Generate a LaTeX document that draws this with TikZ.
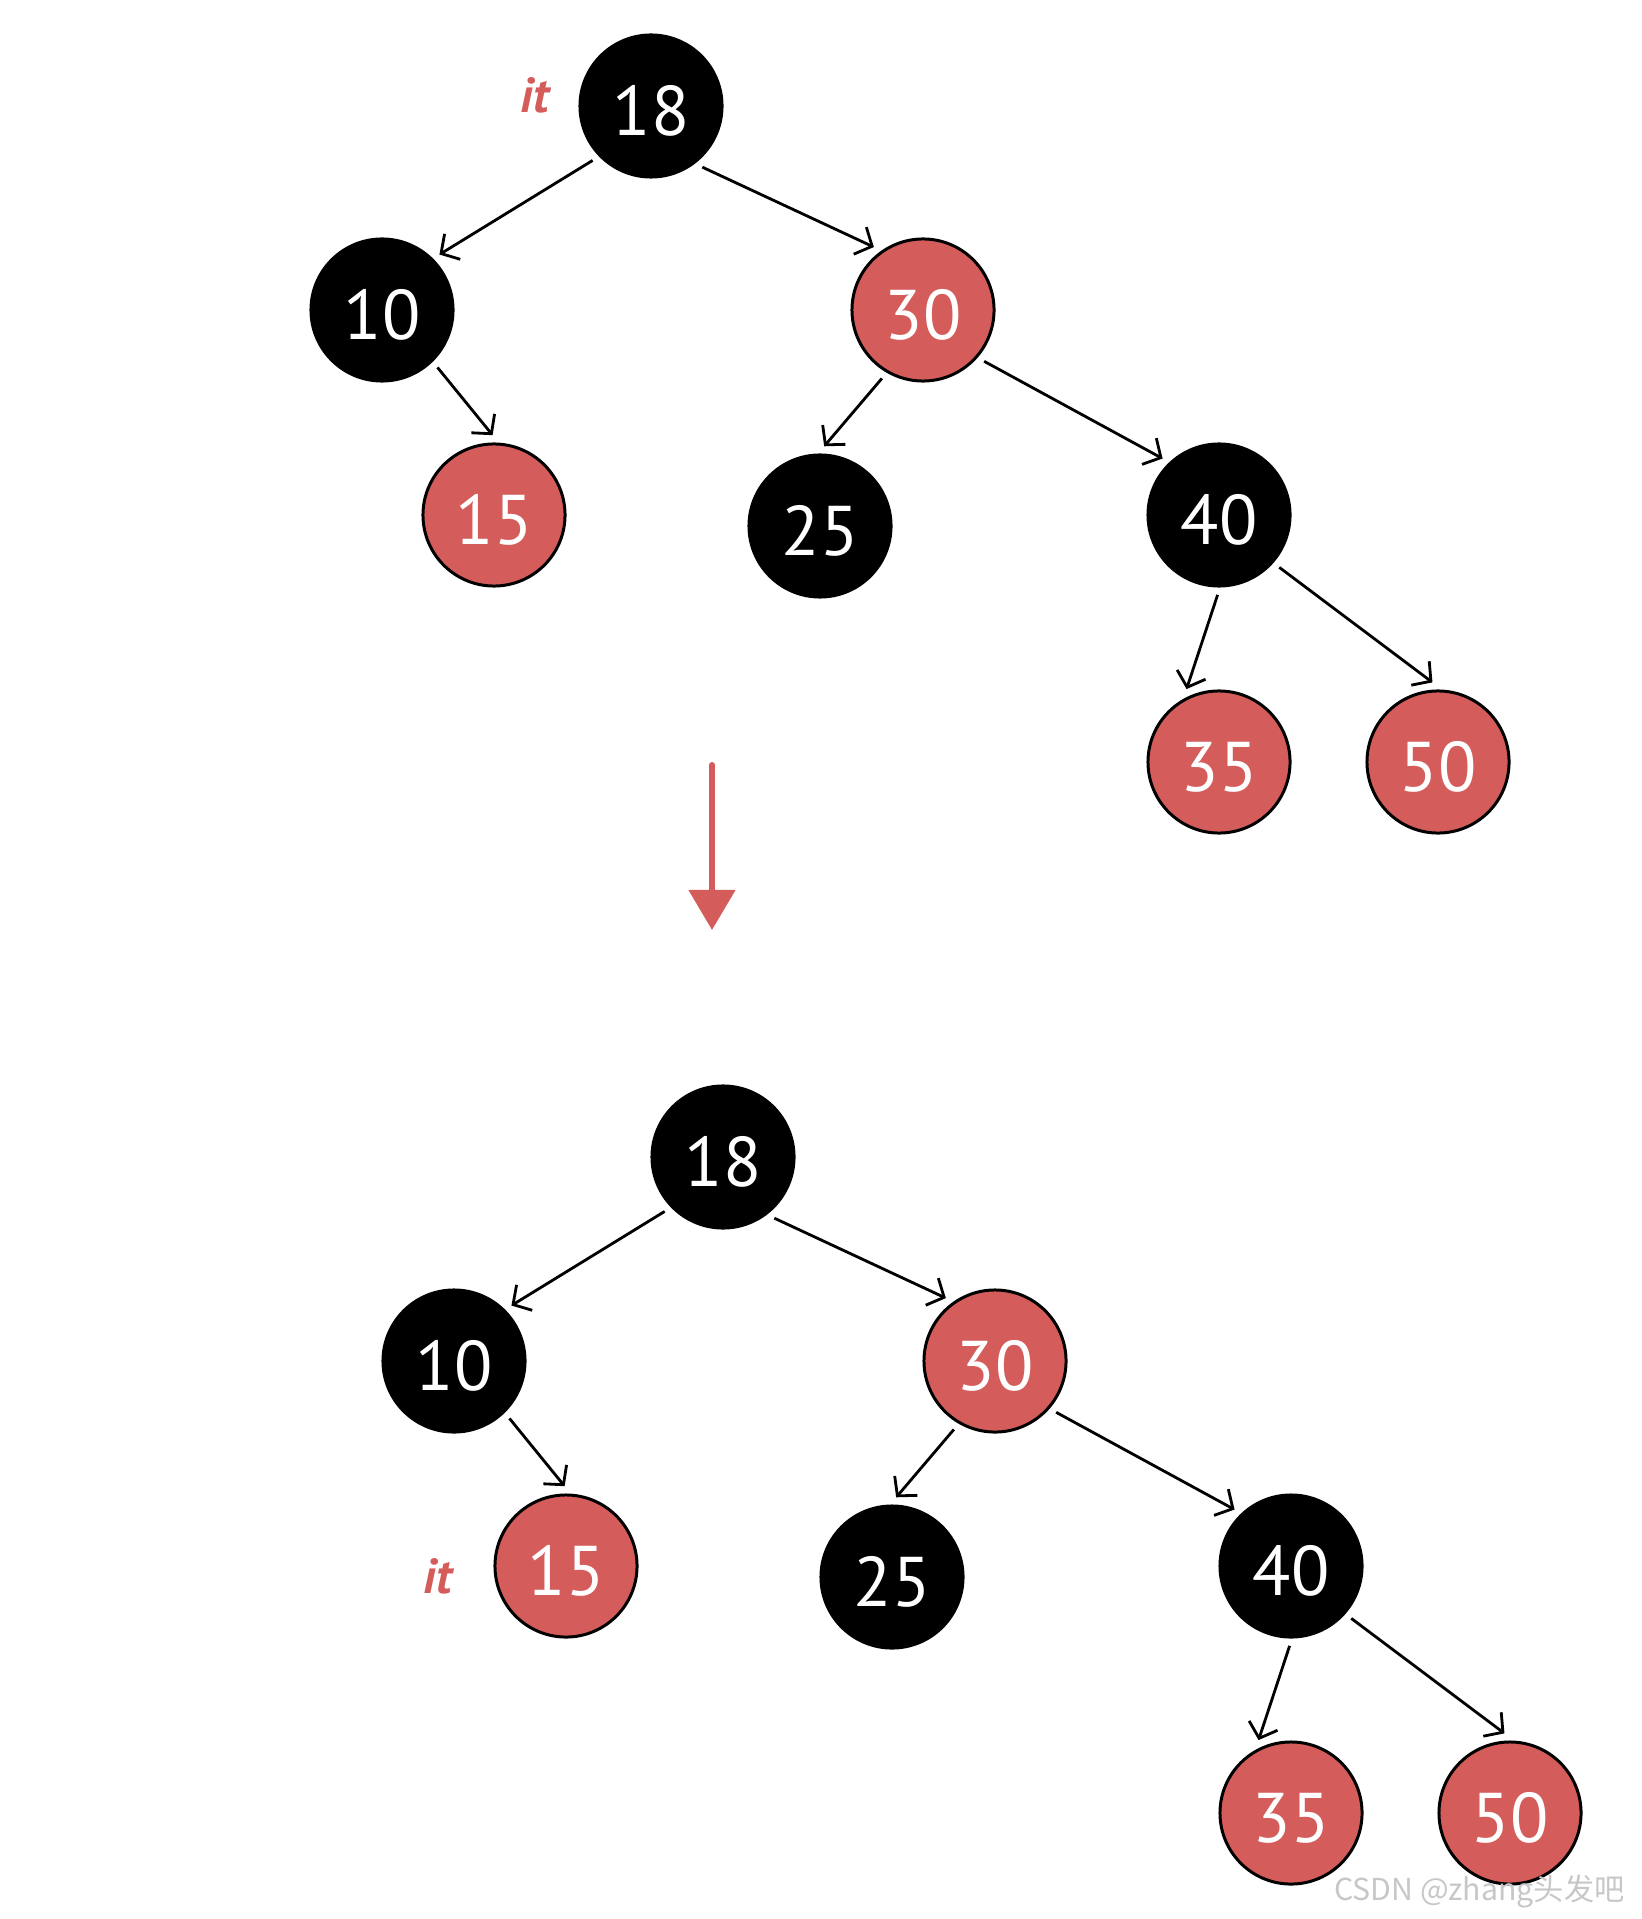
\documentclass[tikz,border=0pt]{standalone}
\usepackage{fontspec}
\setmainfont{PT Sans}
\newfontfamily\cjkfont{Noto Sans CJK SC}
\usetikzlibrary{arrows.meta}

\definecolor{rbred}{RGB}{212,93,92}

\tikzset{
  bnode/.style={circle, draw=black, line width=0.85pt, fill=black, text=white,
    minimum size=1.42cm, inner sep=0pt, outer sep=2.5pt, font=\fontsize{20}{24}\selectfont,
    text height=17pt, text depth=0pt},
  rnode/.style={bnode, fill=rbred},
  edge/.style={line width=0.8pt, -{Straight Barb[length=3.8pt, width=8.5pt]}},
  itlabel/.style={text=rbred, font=\fontsize{14}{16}\selectfont\bfseries\itshape},
  bigarrow/.style={draw=rbred, line width=1.7pt, line cap=round,
    -{Triangle[length=11.4pt, width=13pt, fill=rbred]}}
}

% the tree, drawn twice
\newcommand{\rbtree}{%
  \foreach \n/\x/\y/\s in {18/651/106/bnode, 10/382/310/bnode, 30/923/310/rnode,
      15/494/515/rnode, 25/820/526/bnode, 40/1219/515/bnode,
      35/1219/762/rnode, 50/1438/762/rnode} {
    \node[\s] (n\n) at (\x,\y) {\n};
  }
  % edges leave and enter at fixed angles
  \foreach \a/\p/\b/\q in {18/223/10/44, 18/310/30/128, 10/314/15/91, 30/239/25/87,
      30/320/40/135, 40/269/35/114, 40/319/50/94} {
    \draw[edge] (n\a.\p) -- (n\b.\q);
  }
}

\begin{document}
\begin{tikzpicture}[x=0.01cm, y=-0.01cm]
  \useasboundingbox (0,0) rectangle (1641,1919);
  \begin{scope}[name prefix=top-]
    \rbtree
  \end{scope}
  \begin{scope}[shift={(72,1051)}, name prefix=bot-]
    \rbtree
  \end{scope}
  \node[itlabel] (it1) at (535,95) {it};
  \node[itlabel] (it2) at (438,1576) {it};
  % transition arrow
  \coordinate (arrtop) at (712,765);
  \coordinate (arrtip) at (712,930);
  \draw[bigarrow] (arrtop) -- (arrtip);
  \node[anchor=base east, text=black!22, font=\cjkfont\fontsize{8.6}{11}\selectfont]
    (mark) at (1637,1900) {CSDN @zhang头发吧};
\end{tikzpicture}
\end{document}
